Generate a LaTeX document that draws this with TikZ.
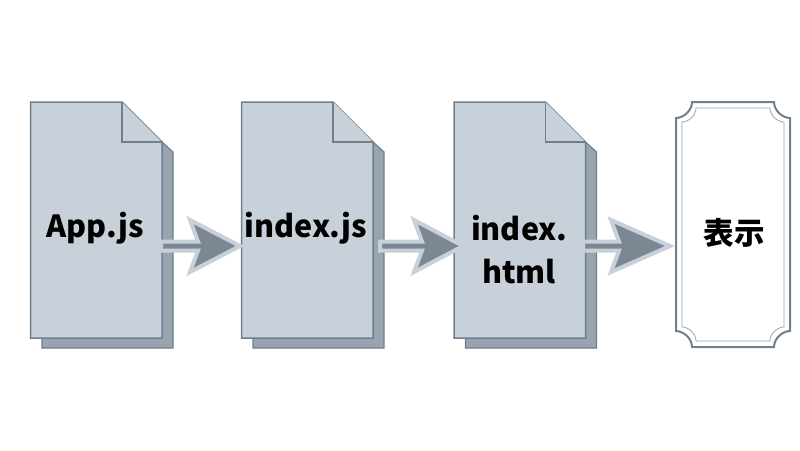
\documentclass[tikz,border=0pt]{standalone}
\usepackage{fontspec}
\setmainfont{Noto Sans CJK JP}
\usetikzlibrary{calc}
\definecolor{docfill}{HTML}{C8D1DA}
\definecolor{docback}{HTML}{98A4AF}
\definecolor{docline}{HTML}{6F7F8C}
\definecolor{arrowfill}{HTML}{7B8893}
\tikzset{
  front/.style={draw=docline,fill=docfill,line width=1.5pt,line join=miter},
  back/.style={draw=docline,fill=docback,line width=1.2pt,line join=miter},
  fatarrow/.style={draw=docfill,fill=arrowfill,line width=4pt,line join=miter,miter limit=5},
  plaqueouter/.style={draw=docline,fill=white,line width=2pt},
  plaqueinner/.style={draw=docback,line width=0.8pt},
  label/.style={font=\bfseries\fontsize{30.5}{30.5}\selectfont,text=black,inner sep=0pt}
}
\newcommand{\docsheet}[1]{%
  \begin{scope}[xshift=#1pt]
    \draw[back] (162,142) -- (173,152) -- (173,348) -- (42,348) -- (42,338) -- (162,338) -- cycle;
    \draw[front] (30.5,102) -- (122,102) -- (162,142) -- (162,338) -- (30.5,338) -- cycle;
    \draw[front] (122,102) -- (122,142) -- (162,142);
  \end{scope}}
\newcommand{\fatarrow}[3]{% start, tip, head length
  \draw[fatarrow] let \p1=(#1), \p2=(#2) in
    (\x1,\y1+4.5pt) -- (\x2-#3pt+14pt,\y1+4.5pt) -- (\x2-#3pt+6pt,\y2+26pt) -- (\x2-5pt,\y2) --
    (\x2-#3pt+6pt,\y2-26pt) -- (\x2-#3pt+14pt,\y1-4.5pt) -- (\x1,\y1-4.5pt) -- cycle;}
\newcommand{\plaque}[6]{% l,r,t,b,radius,style
  \draw[#6] (#1+#5,#3)
    -- (#2-#5,#3) .. controls (#2-#5,#3+0.55*#5) and (#2-0.45*#5,#3+#5) .. (#2,#3+#5)
    -- (#2,#4-#5) .. controls (#2-0.45*#5,#4-#5) and (#2-#5,#4-0.55*#5) .. (#2-#5,#4)
    -- (#1+#5,#4) .. controls (#1+#5,#4-0.55*#5) and (#1+0.45*#5,#4-#5) .. (#1,#4-#5)
    -- (#1,#3+#5) .. controls (#1+0.45*#5,#3+#5) and (#1+#5,#3+0.55*#5) .. (#1+#5,#3) -- cycle;}
\begin{document}
\begin{tikzpicture}[x=1pt,y=-1pt]
  \useasboundingbox (0,0) rectangle (800,450);
  \docsheet{0}
  \docsheet{211}
  \docsheet{423.5}
  \plaque{676}{790}{102}{347}{16}{plaqueouter}
  \plaque{682}{784}{108}{341}{14}{plaqueinner}
  \coordinate (s1) at (161,246);
  \coordinate (t1) at (245,246);
  \coordinate (s2) at (380,246);
  \coordinate (t2) at (468,246);
  \coordinate (s3) at (583,246);
  \coordinate (t3) at (675,246);
  \fatarrow{s1}{t1}{61}
  \fatarrow{s2}{t2}{60}
  \fatarrow{s3}{t3}{70}
  \node[label] (app) at (95,228) {App.js};
  \node[label] (indexjs) at (306,228) {index.js};
  \node[label] (indexhtml1) at (519,228) {index.};
  \node[label] (indexhtml2) at (519,272) {html};
  \node[label] (show) at (734,233) {表示};
\end{tikzpicture}
\end{document}
